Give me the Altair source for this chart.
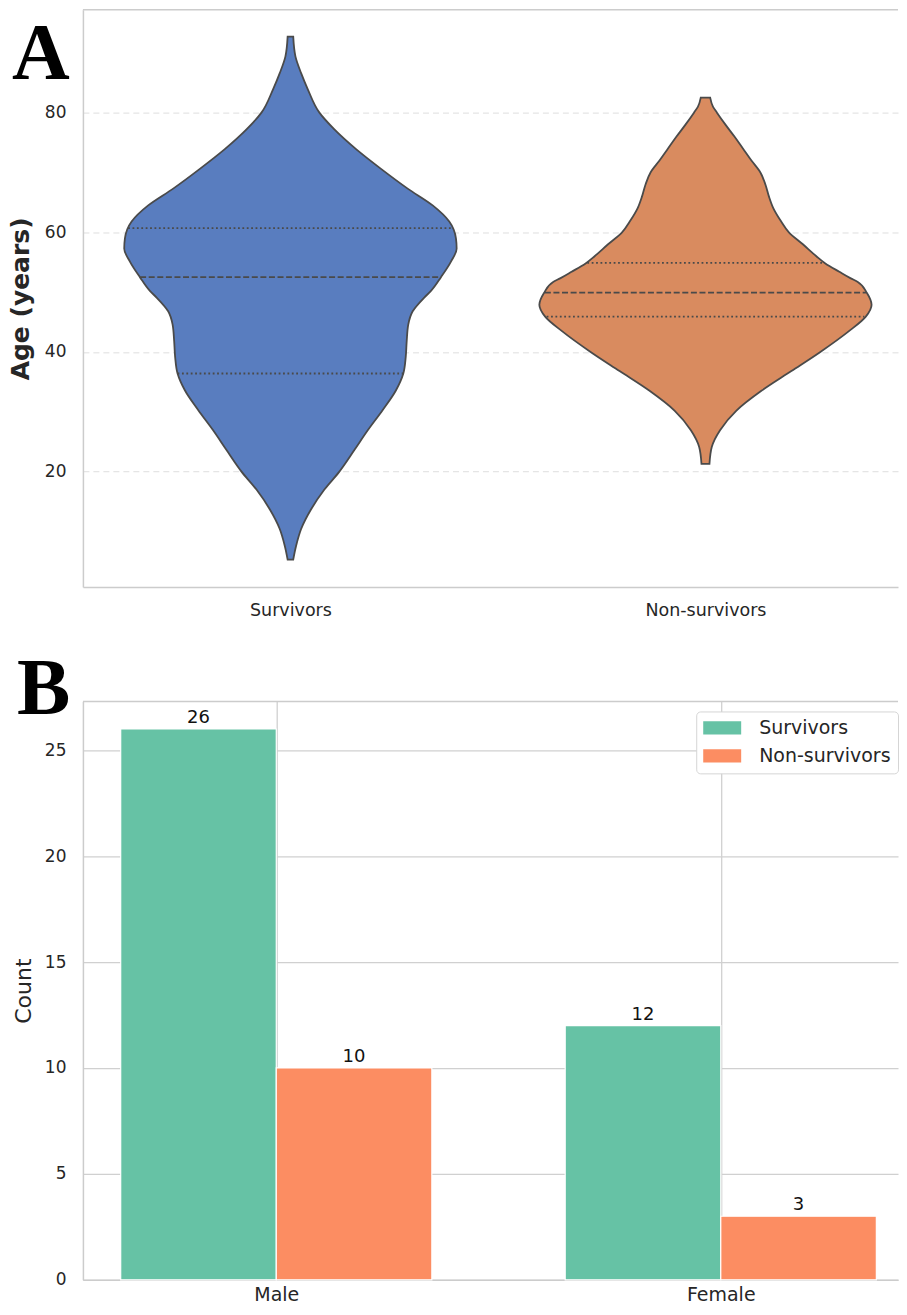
import altair as alt
import pandas as pd

# ---------------- Panel A: violin outlines ----------------
groups = ["Survivors", "Non-survivors"]
violin_colors = ["#597dbf", "#d98b5f"]

# age (years) and half-width of the violin (px, one category = 415.5 px)
surv_age = [92.7, 89.4, 86.6, 83.9, 80.0, 77.2, 73.9, 70.6, 67.3, 64.5, 61.8, 59.0,
            57.3, 55.1, 52.5, 50.2, 49.1, 46.8, 44.6, 41.8, 39.1, 36.4, 33.6, 30.3,
            26.9, 23.6, 20.0, 17.0, 13.7, 10.4, 7.6, 5.3]
surv_hw = [2.8, 5.0, 10.7, 17.4, 29.0, 44.0, 65.7, 90.7, 117.4, 142.4, 159.0, 165.7,
           166.4, 160.7, 150.7, 140.7, 134.0, 122.4, 118.0, 116.4, 115.4, 113.0, 105.7, 92.4,
           77.4, 64.0, 49.0, 34.0, 20.7, 10.7, 5.7, 2.8]

non_age = [82.5, 81.0, 80.0, 78.0, 76.0, 74.0, 72.0, 70.0, 68.0, 66.0, 64.0, 62.0, 60.0,
           58.0, 56.0, 54.8, 53.4, 52.3, 51.7, 49.9, 47.9, 45.9, 43.4, 40.0, 36.8, 33.5,
           30.2, 26.9, 24.1, 21.3]
non_hw = [4.7, 7.5, 11.5, 20.0, 29.0, 37.5, 46.0, 55.0, 60.0, 63.5, 68.0, 75.0, 83.5,
          97.5, 111.0, 120.0, 134.0, 145.5, 152.5, 161.5, 166.3, 160.5, 143.0, 115.0, 86.0, 56.0,
          31.0, 14.6, 6.3, 4.0]

# quartile lines: age and half-width (px)
surv_q_age = [36.4, 52.5, 60.7]
surv_q_hw = [113.0, 150.5, 162.5]
non_q_age = [45.9, 49.9, 54.9]
non_q_hw = [159.0, 160.8, 118.3]
q_kind = ["q1", "median", "q3"]

age_ticks = [20, 40, 60, 80]

# ---------------- Panel B: counts by sex ----------------
sexes = ["Male", "Female"]
statuses = ["Survivors", "Non-survivors"]
survivor_counts = [26, 12]
non_survivor_counts = [10, 3]
count_ticks = [0, 5, 10, 15, 20, 25]
bar_colors = ["#66c2a5", "#fc8d62"]

PLOT_W = 816
H_A = 578
H_B = 579
PX_PER_CAT_A = 415.5
PX_PER_CAT_B = 445.0
BAR_W = 0.35
TEXT = "#262626"
FONT = "DejaVu Sans"
SPINE = "#cccccc"
EDGE = "#4a4a4a"

rows = []
for gi, (ages, hws) in enumerate([(surv_age, surv_hw), (non_age, non_hw)]):
    for a, h in zip(ages, hws):
        rows.append({"group": groups[gi], "gi": gi, "age": a, "hw": h})
violin_df = pd.DataFrame(rows)

qrows = []
for gi, (ages, hws) in enumerate([(surv_q_age, surv_q_hw), (non_q_age, non_q_hw)]):
    for k, a, h in zip(q_kind, ages, hws):
        qrows.append({"group": groups[gi], "gi": gi, "age": a, "hw": h, "kind": k})
q_df = pd.DataFrame(qrows)

label_expr_a = f"datum.value == 0 ? '{groups[0]}' : '{groups[1]}'"

xA_scale = alt.Scale(domain=[-0.5, -0.5 + PLOT_W / PX_PER_CAT_A], nice=False, zero=False)
xA = alt.X("lo:Q", scale=xA_scale,
           axis=alt.Axis(values=[0, 1], labelExpr=label_expr_a, title=None, grid=False,
                         ticks=False, tickSize=0, domain=True, domainColor=SPINE,
                         domainWidth=1.5, labelFontSize=17.5, labelPadding=14,
                         labelFont=FONT, labelColor=TEXT))
yA = alt.Y("age:Q", scale=alt.Scale(domain=[0.7, 97.2], nice=False, zero=False),
           axis=alt.Axis(values=age_ticks, title="Age (years)", grid=True, gridDash=[6, 4],
                         gridColor="#dedede", gridWidth=1, ticks=False, tickSize=0,
                         domain=True, domainColor=SPINE, domainWidth=1.5,
                         labelFontSize=17, labelPadding=17, labelFont=FONT,
                         labelColor=TEXT, titleFont=FONT, titleFontSize=25,
                         titleFontWeight="bold", titleColor=TEXT, titlePadding=11))

base_v = alt.Chart(violin_df).transform_calculate(
    lo=f"datum.gi - datum.hw / {PX_PER_CAT_A}",
    hi=f"datum.gi + datum.hw / {PX_PER_CAT_A}",
)
violin = base_v.mark_area(orient="horizontal", interpolate="monotone",
                          stroke=EDGE, strokeWidth=1.8).encode(
    x=xA, x2="hi:Q", y=yA,
    color=alt.Color("group:N", scale=alt.Scale(domain=groups, range=violin_colors), legend=None),
)

base_q = alt.Chart(q_df).transform_calculate(
    lo=f"datum.gi - datum.hw / {PX_PER_CAT_A}",
    hi=f"datum.gi + datum.hw / {PX_PER_CAT_A}",
)
q_dotted = base_q.transform_filter("datum.kind != 'median'").mark_rule(
    color=EDGE, strokeWidth=1.8, strokeDash=[1.8, 2.6]).encode(
    x=alt.X("lo:Q"), x2="hi:Q", y="age:Q")
q_dashed = base_q.transform_filter("datum.kind == 'median'").mark_rule(
    color=EDGE, strokeWidth=1.8, strokeDash=[6, 2.6]).encode(
    x=alt.X("lo:Q"), x2="hi:Q", y="age:Q")

top_spine_a = alt.Chart(pd.DataFrame({"k": [0]})).mark_rule(color=SPINE, strokeWidth=1.5).encode(
    x=alt.value(0), x2=alt.value(PLOT_W), y=alt.value(0))

letter_a = alt.Chart(pd.DataFrame({"label": ["A"]})).mark_text(
    font="Liberation Serif", fontWeight="bold", fontSize=80, align="left",
    baseline="alphabetic", color="black").encode(
    text="label:N", x=alt.value(-71), y=alt.value(69.5))

panel_a = alt.layer(violin, q_dotted, q_dashed, top_spine_a, letter_a).properties(
    width=PLOT_W, height=H_A)

# ---------------- Panel B ----------------
brows = []
for si, sex in enumerate(sexes):
    brows.append({"sex": sex, "si": si, "status": statuses[0], "count": survivor_counts[si], "off": -1})
    brows.append({"sex": sex, "si": si, "status": statuses[1], "count": non_survivor_counts[si], "off": 0})
bar_df = pd.DataFrame(brows)

label_expr_b = f"datum.value == 0 ? '{sexes[0]}' : '{sexes[1]}'"

base_b = alt.Chart(bar_df).transform_calculate(
    x0=f"datum.si + datum.off * {BAR_W}",
    x1=f"datum.si + (datum.off + 1) * {BAR_W}",
    xm=f"datum.si + (datum.off + 0.5) * {BAR_W}",
)
xB = alt.X("x0:Q", scale=alt.Scale(domain=[-0.435, -0.435 + PLOT_W / PX_PER_CAT_B], nice=False, zero=False),
           axis=alt.Axis(values=[0, 1], labelExpr=label_expr_b, title=None, grid=True,
                         gridColor="#d0d0d0", gridWidth=1.3, ticks=False, tickSize=0,
                         domain=True, domainColor=SPINE, domainWidth=1.5,
                         labelFontSize=19, labelPadding=6, labelFont=FONT,
                         labelColor=TEXT))
yB = alt.Y("count:Q", scale=alt.Scale(domain=[0, 27.3], nice=False),
           axis=alt.Axis(values=count_ticks, title="Count", grid=True,
                         gridColor="#d0d0d0", gridWidth=1.3, ticks=False, tickSize=0,
                         domain=True, domainColor=SPINE, domainWidth=1.5,
                         labelFontSize=17, labelPadding=17, labelFont=FONT,
                         labelColor=TEXT, titleFont=FONT, titleFontSize=22,
                         titleFontWeight="normal", titleColor=TEXT, titlePadding=9))

bars = base_b.mark_bar(stroke="white", strokeWidth=1.2).encode(
    x=xB, x2="x1:Q", y=yB, y2=alt.datum(0),
    color=alt.Color("status:N", scale=alt.Scale(domain=statuses, range=bar_colors),
                    legend=alt.Legend(title=None, orient="none", legendX=614, legendY=10,
                                      direction="vertical", fillColor="white",
                                      strokeColor="#d5d5d5", cornerRadius=4, padding=7,
                                      labelFontSize=19, labelFont=FONT, labelColor=TEXT,
                                      symbolType="M-1,-0.7L3,-0.7L3,0.7L-1,0.7Z",
                                      symbolSize=361, symbolStrokeWidth=0, symbolOpacity=1,
                                      labelOffset=37, rowPadding=8)),
)
bar_text = base_b.mark_text(baseline="bottom", dy=-2, fontSize=18, font=FONT, color="#111111").encode(
    x="xm:Q", y="count:Q", text="count:Q")

top_spine_b = alt.Chart(pd.DataFrame({"k": [0]})).mark_rule(color=SPINE, strokeWidth=1.5).encode(
    x=alt.value(0), x2=alt.value(PLOT_W), y=alt.value(0))

letter_b = alt.Chart(pd.DataFrame({"label": ["B"]})).mark_text(
    font="Liberation Serif", fontWeight="bold", fontSize=80, align="left",
    baseline="alphabetic", color="black").encode(
    text="label:N", x=alt.value(-66), y=alt.value(13))

panel_b = alt.layer(bars, bar_text, top_spine_b, letter_b).properties(width=PLOT_W, height=H_B)

chart = alt.vconcat(panel_a, panel_b, spacing=31.5).resolve_scale(
    color="independent", x="independent", y="independent"
).configure_view(strokeWidth=0).properties(
    padding={"left": 0, "top": 0, "right": 0, "bottom": 0}, background="white")

chart.save("out.html", embed_options={"renderer": "svg", "actions": False})
